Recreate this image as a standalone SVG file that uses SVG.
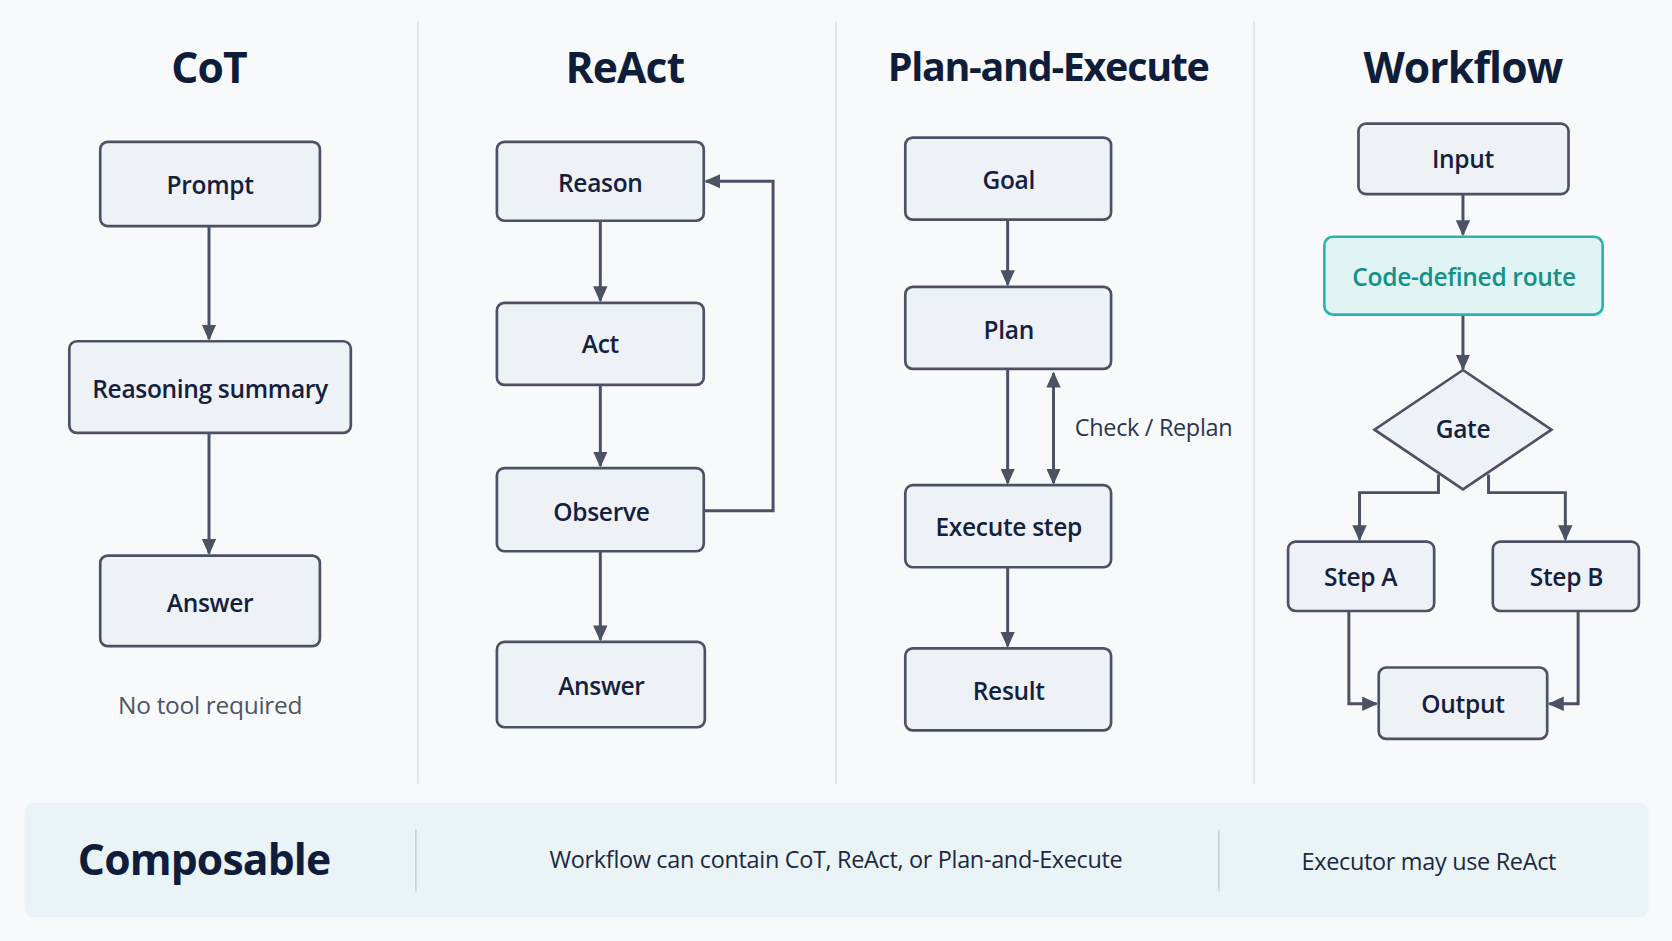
<svg xmlns="http://www.w3.org/2000/svg" width="1672" height="941" viewBox="0 0 1672 941">
<defs>
<marker id="ah" viewBox="0 0 10 10" refX="9" refY="5" markerWidth="15" markerHeight="15" markerUnits="userSpaceOnUse" orient="auto-start-reverse"><path d="M0,0.5 L10,5 L0,9.5 z" fill="#4a5263"/></marker>
<style>
.box{fill:#eef1f5;stroke:#4a5263;stroke-width:2.5}
.lbl{font-family:"Open Sans","Noto Sans",sans-serif;font-size:23px;font-weight:600;fill:#13213f;text-anchor:middle;dominant-baseline:central;letter-spacing:-0.3px}
.ttl{font-family:"Open Sans","Noto Sans",sans-serif;font-size:40px;font-weight:700;fill:#0f1d3a;text-anchor:middle;dominant-baseline:central;letter-spacing:-0.8px}
.note{font-family:"Open Sans","Noto Sans",sans-serif;font-size:23px;fill:#4d5563;dominant-baseline:central;letter-spacing:-0.3px}
.con{fill:none;stroke:#4a5263;stroke-width:2.8;marker-end:url(#ah)}
.div{stroke:#dde1e6;stroke-width:1.5}
</style>
</defs>
<rect width="1672" height="941" fill="#f8f9fa"/>
<g transform="scale(1.0663)">
<line class="div" x1="392" y1="20" x2="392" y2="735"/>
<line class="div" x1="784" y1="20" x2="784" y2="735"/>
<line class="div" x1="1176" y1="20" x2="1176" y2="735"/>
<text class="ttl" x="196" y="62">CoT</text>
<text class="ttl" x="586" y="62">ReAct</text>
<text class="ttl" x="983" y="62" style="font-size:37px;letter-spacing:-1.2px">Plan-and-Execute</text>
<text class="ttl" x="1372" y="62">Workflow</text>

<g id="connectors">
<path class="con" d="M196,212 V318"/>
<path class="con" d="M196,406 V519"/>
<path class="con" d="M563,207 V282"/>
<path class="con" d="M563,361 V437"/>
<path class="con" d="M563,517 V600"/>
<path class="con" d="M660,479 H725 V170 H662"/>
<path class="con" d="M945,206 V267"/>
<path class="con" d="M945,346 V453"/>
<path class="con" d="M988,453 V350" style="marker-start:url(#ah)"/>
<path class="con" d="M945,532 V606"/>
<path class="con" d="M1372,182 V220"/>
<path class="con" d="M1372,295 V346"/>
<path class="con" d="M1349,445 V462 H1275 V506"/>
<path class="con" d="M1396,445 V462 H1468 V506"/>
<path class="con" d="M1265,573 V660 H1291"/>
<path class="con" d="M1480,573 V660 H1453"/>
</g>
<text class="note" x="1008" y="400" style="font-size:22px;fill:#2a3550">Check / Replan</text>

<g id="prompt"><rect class="box" x="94" y="133" width="206" height="79" rx="7"/><text class="lbl" x="197" y="173">Prompt</text></g>
<g id="reasoning"><rect class="box" x="65" y="320" width="264" height="86" rx="7"/><text class="lbl" x="197" y="364">Reasoning summary</text></g>
<g id="answer1"><rect class="box" x="94" y="521" width="206" height="85" rx="7"/><text class="lbl" x="197" y="565">Answer</text></g>
<text class="note" x="197" y="661" style="text-anchor:middle">No tool required</text>

<g id="reason"><rect class="box" x="466" y="133" width="194" height="74" rx="7"/><text class="lbl" x="563" y="171">Reason</text></g>
<g id="act"><rect class="box" x="466" y="284" width="194" height="77" rx="7"/><text class="lbl" x="563" y="322">Act</text></g>
<g id="observe"><rect class="box" x="466" y="439" width="194" height="78" rx="7"/><text class="lbl" x="564" y="480">Observe</text></g>
<g id="answer2"><rect class="box" x="466" y="602" width="195" height="80" rx="7"/><text class="lbl" x="564" y="643">Answer</text></g>

<g id="goal"><rect class="box" x="849" y="129" width="193" height="77" rx="7"/><text class="lbl" x="946" y="168">Goal</text></g>
<g id="plan"><rect class="box" x="849" y="269" width="193" height="77" rx="7"/><text class="lbl" x="946" y="309">Plan</text></g>
<g id="execute"><rect class="box" x="849" y="455" width="193" height="77" rx="7"/><text class="lbl" x="946" y="494">Execute step</text></g>
<g id="result"><rect class="box" x="849" y="608" width="193" height="77" rx="7"/><text class="lbl" x="946" y="648">Result</text></g>

<g id="input"><rect class="box" x="1274" y="116" width="197" height="66" rx="7"/><text class="lbl" x="1372" y="149">Input</text></g>
<g id="route"><rect x="1242" y="222" width="261" height="73" rx="8" fill="#e0f4f3" stroke="#2db3ae" stroke-width="2.5"/><text class="lbl" x="1373" y="259" style="fill:#14908b">Code-defined route</text></g>
<g id="gate"><polygon class="box" points="1372,347 1455,403 1372,459 1289,403"/><text class="lbl" x="1372" y="402">Gate</text></g>
<g id="stepA"><rect class="box" x="1208" y="508" width="137" height="65" rx="7"/><text class="lbl" x="1276" y="541">Step A</text></g>
<g id="stepB"><rect class="box" x="1400" y="508" width="137" height="65" rx="7"/><text class="lbl" x="1469" y="541">Step B</text></g>
<g id="output"><rect class="box" x="1293" y="626" width="158" height="67" rx="7"/><text class="lbl" x="1372" y="660">Output</text></g>

<g id="composable">
<rect x="23" y="753" width="1523" height="107" rx="8" fill="#eaf3f6"/>
<text class="ttl" x="73" y="805" style="text-anchor:start">Composable</text>
<line class="div" x1="390" y1="778" x2="390" y2="836" style="stroke:#c9d0d6"/>
<line class="div" x1="1143" y1="778" x2="1143" y2="836" style="stroke:#c9d0d6"/>
<text class="note" x="784" y="806" style="text-anchor:middle;font-size:22px;fill:#1c2840">Workflow can contain CoT, ReAct, or Plan-and-Execute</text>
<text class="note" x="1340" y="807" style="text-anchor:middle;font-size:22px;fill:#1c2840">Executor may use ReAct</text>
</g>
</g>
</svg>
